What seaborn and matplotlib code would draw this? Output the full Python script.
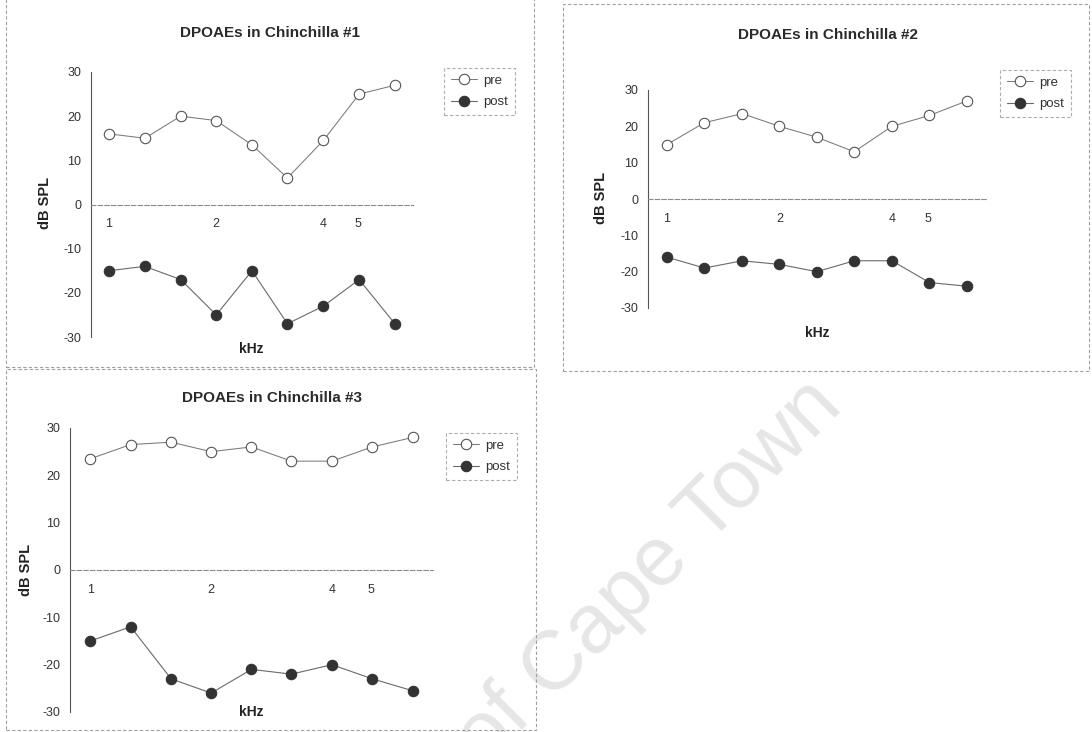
import matplotlib
matplotlib.use("Agg")
import matplotlib.pyplot as plt
import numpy as np
import pandas as pd
import seaborn as sns
from matplotlib.lines import Line2D
from matplotlib.patches import Rectangle

# third-octave test frequencies, kHz
freqs = [1.0, 1.26, 1.59, 2.0, 2.52, 3.17, 4.0, 5.04, 6.35]
freq_ticks = [1, 2, 4, 5]
freq_labels = ["1", "2", "4", "5"]
db_ticks = [-30, -20, -10, 0, 10, 20, 30]

pre_1 = [16, 15, 20, 19, 13.5, 6, 14.5, 25, 27]
post_1 = [-15, -14, -17, -25, -15, -27, -23, -17, -27]
pre_2 = [15, 21, 23.5, 20, 17, 13, 20, 23, 27]
post_2 = [-16, -19, -17, -18, -20, -17, -17, -23, -24]
pre_3 = [23.5, 26.5, 27, 25, 26, 23, 23, 26, 28]
post_3 = [-15, -12, -23, -26, -21, -22, -20, -23, -25.5]

titles = ["DPOAEs in Chinchilla #1", "DPOAEs in Chinchilla #2", "DPOAEs in Chinchilla #3"]

W, H = 1092, 732

sns.set_style("white")
plt.rcParams["font.family"] = ["Liberation Sans", "DejaVu Sans"]
plt.rcParams["axes.unicode_minus"] = False

fig = plt.figure(figsize=(W / 100, H / 100), dpi=100)
fig.patch.set_facecolor("white")


def px_rect(x0, y0, x1, y1):
    return [x0 / W, 1 - y1 / H, (x1 - x0) / W, (y1 - y0) / H]


# layout of each panel in pixels: frame, axes, title, ylabel, xlabel, legend corner
panels = [
    dict(frame=(6, -2, 534, 367), axes=(91, 72, 413, 337), title=(270, 33),
         ylab=(45, 203), xlab=(251, 349), leg=(444, 68), pre=pre_1, post=post_1),
    dict(frame=(563, 4, 1089, 371), axes=(648, 90, 986, 308), title=(828, 35),
         ylab=(601, 198), xlab=(817, 333), leg=(1000, 70), pre=pre_2, post=post_2),
    dict(frame=(6, 369, 536, 730), axes=(70, 428, 433, 712), title=(272, 398),
         ylab=(26, 570), xlab=(251, 712), leg=(446, 433), pre=pre_3, post=post_3),
]

pre_style = dict(color="#7a7a7a", linewidth=0.75, marker="o", markersize=7.5,
                 markerfacecolor="white", markeredgecolor="#555555", markeredgewidth=0.8)
post_style = dict(color="#6a6a6a", linewidth=0.8, marker="o", markersize=7.5,
                  markerfacecolor="#333333", markeredgecolor="#333333", markeredgewidth=0.8)

minor_ticks = [np.sqrt(a * b) for a, b in zip(freqs[:-1], freqs[1:])]

for title, p in zip(titles, panels):
    fx0, fy0, fx1, fy1 = p["frame"]
    fig.patches.append(Rectangle((fx0 / W, 1 - fy1 / H), (fx1 - fx0) / W, (fy1 - fy0) / H,
                                 transform=fig.transFigure, fill=False, edgecolor="#a0a0a0",
                                 linewidth=0.8, linestyle=(0, (3, 2))))

    ax0, ay0, ax1, ay1 = p["axes"]
    ax = fig.add_axes(px_rect(ax0, ay0, ax1, ay1))
    ax.set_facecolor("none")

    df = pd.DataFrame({"kHz": freqs, "pre": p["pre"], "post": p["post"]})
    sns.lineplot(data=df, x="kHz", y="pre", ax=ax, **pre_style)
    sns.lineplot(data=df, x="kHz", y="post", ax=ax, **post_style)

    ax.set_xscale("log")
    ax.set_xlim(0.89, 7.14)
    ax.set_ylim(-30, 30)
    ax.set_xticks(freq_ticks)
    ax.set_xticklabels(freq_labels)
    ax.set_xticks(minor_ticks, minor=True)
    ax.xaxis.set_minor_formatter(plt.NullFormatter())
    ax.set_yticks(db_ticks)
    ax.set_yticklabels([str(t) for t in db_ticks])

    for side in ["top", "right"]:
        ax.spines[side].set_visible(False)
    ax.spines["bottom"].set_position(("data", 0))
    ax.spines["bottom"].set_color("#8a8a8a")
    ax.spines["bottom"].set_linestyle((0, (4, 2)))
    ax.spines["bottom"].set_linewidth(0.8)
    ax.spines["left"].set_color("#555555")
    ax.spines["left"].set_linewidth(0.8)

    ax.tick_params(axis="x", which="major", direction="inout", length=4, width=0.7,
                   color="#888888", pad=8, labelsize=9, labelcolor="#333333")
    ax.tick_params(axis="x", which="minor", direction="inout", length=4, width=0.7,
                   color="#888888")
    ax.tick_params(axis="y", direction="out", length=2, width=0.6, color="#999999",
                   pad=5, labelsize=9, labelcolor="#333333")

    ax.set_xlabel("kHz", fontsize=10, fontweight="bold", color="#222222")
    ax.xaxis.set_label_coords((p["xlab"][0] - ax0) / (ax1 - ax0),
                              (ay1 - p["xlab"][1]) / (ay1 - ay0))
    ax.xaxis.label.set_va("center")
    ax.set_ylabel("dB SPL", fontsize=10.5, fontweight="bold", color="#222222")
    ax.yaxis.set_label_coords((p["ylab"][0] - ax0) / (ax1 - ax0),
                              (ay1 - p["ylab"][1]) / (ay1 - ay0))
    ax.yaxis.label.set_va("center")

    fig.text(p["title"][0] / W, 1 - p["title"][1] / H, title, ha="center", va="center",
             fontsize=11, fontweight="bold", color="#2a2a2a")

    handles = [Line2D([], [], **pre_style), Line2D([], [], **post_style)]
    leg = ax.legend(handles, ["pre", "post"], loc="upper left",
                    bbox_to_anchor=(p["leg"][0] / W, 1 - p["leg"][1] / H),
                    bbox_transform=fig.transFigure, frameon=True, fancybox=False,
                    edgecolor="#999999", fontsize=9.5, handlelength=2.0,
                    borderpad=0.5, labelspacing=0.7, handletextpad=0.5,
                    borderaxespad=0)
    leg.get_frame().set_linestyle((0, (3, 2)))
    leg.get_frame().set_linewidth(0.8)
    for t in leg.get_texts():
        t.set_color("#333333")

# watermark, partly off the bottom edge as in the scan
fig.text(845 / W, 1 - 408 / H, "University of Cape Town", rotation=45,
         rotation_mode="anchor", ha="right", va="baseline", fontsize=60,
         color="#e6e6e6", zorder=0)

fig.savefig("out.png", dpi=100, facecolor="white")
